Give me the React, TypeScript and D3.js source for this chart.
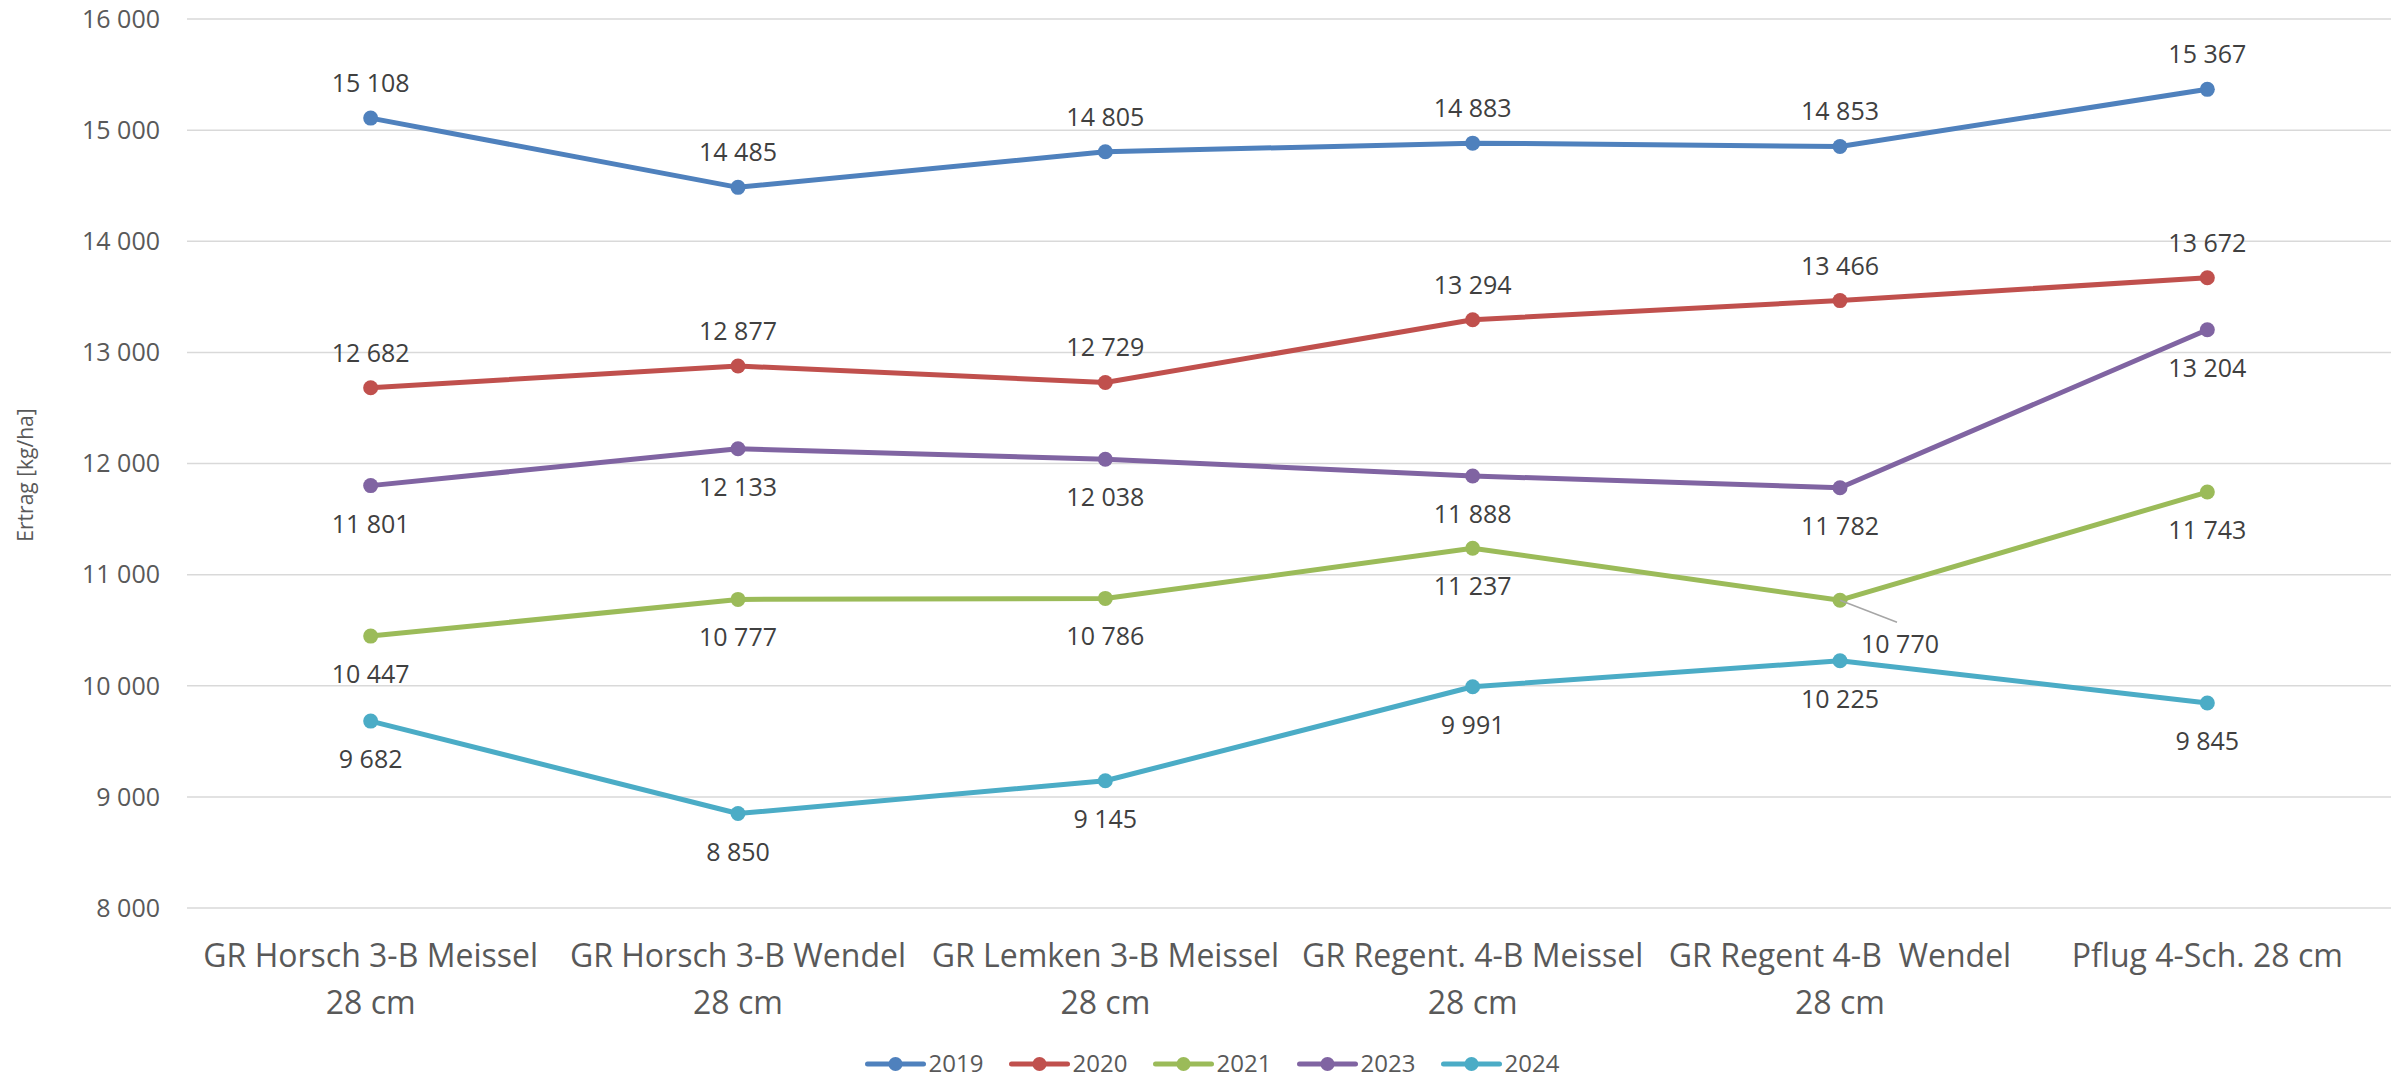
import React from "react";
import * as d3 from "d3";

const categories = [
  ["GR Horsch 3-B Meissel", "28 cm"],
  ["GR Horsch 3-B Wendel", "28 cm"],
  ["GR Lemken 3-B Meissel", "28 cm"],
  ["GR Regent. 4-B Meissel", "28 cm"],
  ["GR Regent 4-B  Wendel", "28 cm"],
  ["Pflug 4-Sch. 28 cm"],
];

const years = ["2019", "2020", "2021", "2023", "2024"];
const values2019 = [15108, 14485, 14805, 14883, 14853, 15367];
const values2020 = [12682, 12877, 12729, 13294, 13466, 13672];
const values2021 = [10447, 10777, 10786, 11237, 10770, 11743];
const values2023 = [11801, 12133, 12038, 11888, 11782, 13204];
const values2024 = [9682, 8850, 9145, 9991, 10225, 9845];
const seriesValues = [values2019, values2020, values2021, values2023, values2024];
const labelSide = ["above", "above", "below", "below", "below"];
const colors = ["#4F81BD", "#C0504D", "#9BBB59", "#8064A2", "#4BACC6"];
const yTicks = [8000, 9000, 10000, 11000, 12000, 13000, 14000, 15000, 16000];
const yTitle = "Ertrag [kg/ha]";

const W = 2402;
const H = 1080;
const FONT = "'Open Sans', sans-serif";

const locale = d3.formatLocale({
  decimal: ",",
  thousands: "\u00a0",
  grouping: [3],
  currency: ["", ""],
});
const fmt = locale.format(",d");

export default function App() {
  const x = d3
    .scaleBand<number>()
    .domain(categories.map((_, i) => i))
    .range([187, 2391]);
  const cx = (i: number) => (x(i) as number) + x.bandwidth() / 2;
  const y = d3.scaleLinear().domain([8000, 16000]).range([908, 19]);
  const line = d3
    .line<number>()
    .x((_, i) => cx(i))
    .y((d) => y(d));

  const legendItemW = 144;
  const legendTotal = (years.length - 1) * legendItemW + 117;
  const legendStart = 1214 - legendTotal / 2;

  return (
    <svg
      width={W}
      height={H}
      style={{ position: "absolute", left: 0, top: 0, background: "#fff" }}
      fontFamily={FONT}
    >
      <rect width={W} height={H} fill="#fff" />
      {yTicks.map((t) => (
        <g key={t}>
          <line x1={187} x2={2391} y1={y(t)} y2={y(t)} stroke="#d9d9d9" strokeWidth={1.5} />
          <text x={160} y={y(t)} dy="0.35em" textAnchor="end" fontSize={25} fill="#595959">
            {fmt(t)}
          </text>
        </g>
      ))}
      <text
        transform={`translate(33,475) rotate(-90)`}
        textAnchor="middle"
        fontSize={21}
        fill="#595959"
      >
        {yTitle}
      </text>
      {categories.map((lines, i) => (
        <text
          key={i}
          x={cx(i)}
          textAnchor="middle"
          fontSize={32}
          fill="#595959"
          style={{ whiteSpace: "pre" }}
        >
          {lines.map((l, j) => (
            <tspan key={j} x={cx(i)} y={967 + j * 47}>
              {l}
            </tspan>
          ))}
        </text>
      ))}
      {seriesValues.map((vals, s) => (
        <g key={years[s]}>
          <path d={line(vals) || ""} fill="none" stroke={colors[s]} strokeWidth={5} strokeLinejoin="round" />
          {vals.map((v, i) => (
            <circle key={i} cx={cx(i)} cy={y(v)} r={7.5} fill={colors[s]} />
          ))}
        </g>
      ))}
      {seriesValues.map((vals, s) =>
        vals.map((v, i) => {
          const px = cx(i);
          const py = y(v);
          const special = years[s] === "2021" && i === 4;
          if (special) {
            return (
              <g key={`${s}-${i}`}>
                <line x1={px} y1={py} x2={px + 57} y2={py + 22} stroke="#a6a6a6" strokeWidth={1.5} />
                <text x={px + 60} y={py + 53} textAnchor="middle" fontSize={25} fill="#404040">
                  {fmt(v)}
                </text>
              </g>
            );
          }
          const ly = labelSide[s] === "above" ? py - 26 : py + 47;
          return (
            <text key={`${s}-${i}`} x={px} y={ly} textAnchor="middle" fontSize={25} fill="#404040">
              {fmt(v)}
            </text>
          );
        })
      )}
      {years.map((yr, s) => {
        const lx = legendStart + s * legendItemW;
        return (
          <g key={yr}>
            <line x1={lx} x2={lx + 56} y1={1064} y2={1064} stroke={colors[s]} strokeWidth={5} strokeLinecap="round" />
            <circle cx={lx + 28} cy={1064} r={7} fill={colors[s]} />
            <text x={lx + 61} y={1072} fontSize={24} fill="#595959">
              {yr}
            </text>
          </g>
        );
      })}
    </svg>
  );
}
